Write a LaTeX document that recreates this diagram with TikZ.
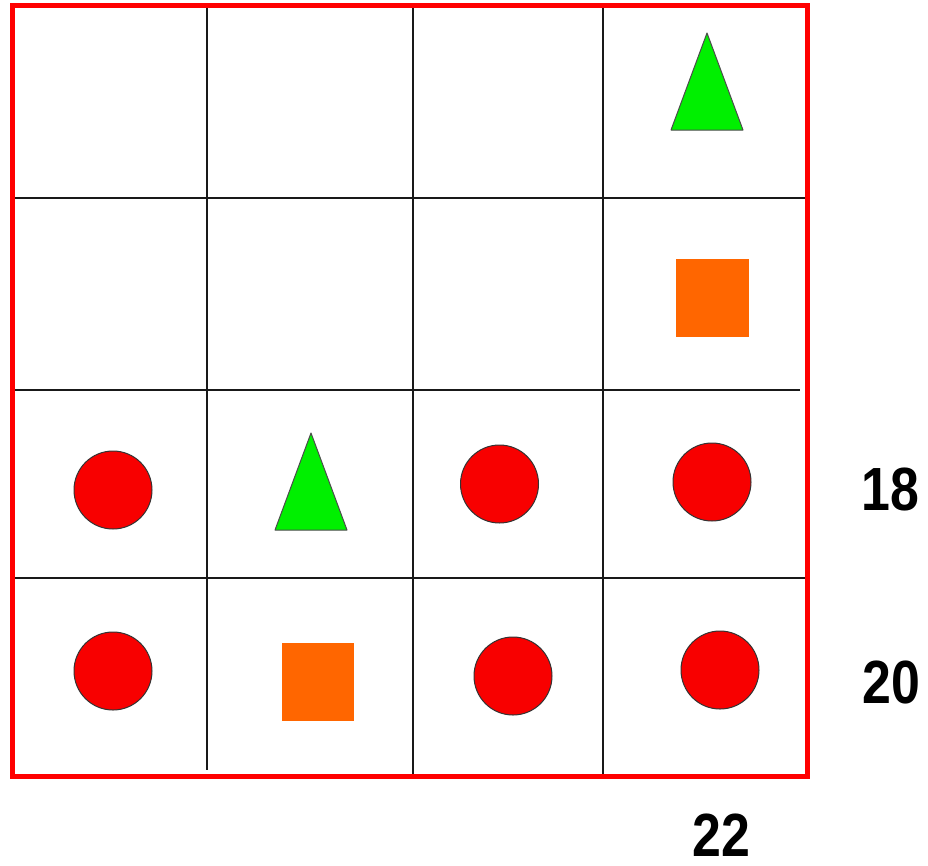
\documentclass[tikz,border=0pt]{standalone}
\usepackage{fontspec}
\usepackage{graphicx}
\newfontfamily\numfont{Liberation Sans}
\definecolor{borderred}{HTML}{FF0000}
\definecolor{dotred}{HTML}{F80000}
\definecolor{trigreen}{HTML}{00F000}
\definecolor{sqorange}{HTML}{FF6600}
\tikzset{
  gridline/.style={line width=2.6pt, black!90},
  frame/.style={draw=borderred, line width=5pt},
  dot/.style={circle, draw=black!80, line width=1pt, fill=dotred, minimum size=78pt, inner sep=0pt},
  sq/.style={rectangle, fill=sqorange, minimum width=72pt, minimum height=78pt, inner sep=0pt},
  tri/.style={fill=trigreen, draw=black!70, line width=1pt, line join=round},
  num/.style={inner sep=0pt, font=\numfont\bfseries\fontsize{61}{61}\selectfont}
}
\begin{document}
\begin{tikzpicture}[x=1pt, y=-1pt]
\useasboundingbox (0,0) rectangle (928,865);
\fill[white] (0,0) rectangle (928,865);
% grid line end points
\coordinate (v1t) at (207,5);   \coordinate (v1b) at (207,770);
\coordinate (v2t) at (413,5);   \coordinate (v2b) at (413,776);
\coordinate (v3t) at (603,5);   \coordinate (v3b) at (603,776);
\coordinate (h1l) at (12,198);  \coordinate (h1r) at (807,198);
\coordinate (h2l) at (12,390);  \coordinate (h2r) at (800,390);
\coordinate (h3l) at (12,578);  \coordinate (h3r) at (809,578);
\draw[gridline] (v1t) -- (v1b);
\draw[gridline] (v2t) -- (v2b);
\draw[gridline] (v3t) -- (v3b);
\draw[gridline] (h1l) -- (h1r);
\draw[gridline] (h2l) -- (h2r);
\draw[gridline] (h3l) -- (h3r);
% frame
\draw[frame] (12,5) rectangle (807,776);
% triangles
\draw[tri] (707,33) -- (743,130) -- (671,130) -- cycle;
\draw[tri] (311,433) -- (347,530) -- (275,530) -- cycle;
% squares
\node[sq, minimum width=73pt] (s1) at (712.5,298) {};
\node[sq] (s2) at (318,682) {};
% circles
\node[dot] (c31) at (113,490) {};
\node[dot] (c33) at (499.5,484) {};
\node[dot] (c34) at (712,482) {};
\node[dot] (c41) at (113,671) {};
\node[dot] (c43) at (513,676) {};
\node[dot] (c44) at (720,670) {};
% labels
\node[num] (l18) at (890,489) {\scalebox{0.85}[1]{18}};
\node[num] (l20) at (891,682) {\scalebox{0.85}[1]{20}};
\node[num] (l22) at (721,835) {\scalebox{0.85}[1]{22}};
\end{tikzpicture}
\end{document}
